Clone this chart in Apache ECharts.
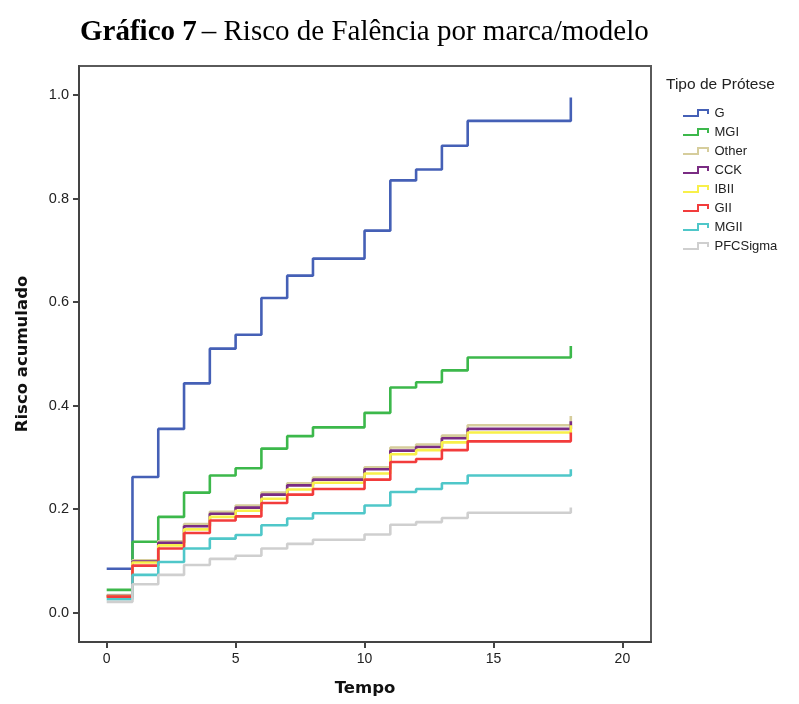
<!DOCTYPE html>
<html>
<head>
<meta charset="utf-8">
<script src="https://cdn.jsdelivr.net/npm/echarts@6/dist/echarts.min.js"></script>
<style>html,body{margin:0;padding:0;background:#fff}#c{width:799px;height:704px}</style>
</head>
<body>
<div id="c"></div>
<script>
// Time points where the step curves change (step holds until next time)
var times = [0, 1, 2, 3, 4, 5, 6, 7, 8, 10, 11, 12, 13, 14, 18];
var seriesNames = ['G', 'MGI', 'Other', 'CCK', 'IBII', 'GII', 'MGII', 'PFCSigma'];
var G        = [0.085, 0.262, 0.355, 0.443, 0.510, 0.537, 0.608, 0.651, 0.684, 0.738, 0.835, 0.856, 0.902, 0.950, 0.995];
var MGI      = [0.044, 0.137, 0.185, 0.232, 0.265, 0.279, 0.317, 0.341, 0.358, 0.386, 0.435, 0.445, 0.468, 0.493, 0.515];
var Other    = [0.034, 0.101, 0.138, 0.171, 0.195, 0.207, 0.232, 0.250, 0.261, 0.281, 0.319, 0.325, 0.342, 0.362, 0.380];
var CCK      = [0.032, 0.099, 0.135, 0.167, 0.191, 0.203, 0.228, 0.246, 0.257, 0.277, 0.313, 0.320, 0.337, 0.355, 0.370];
var IBII     = [0.031, 0.097, 0.130, 0.161, 0.185, 0.197, 0.220, 0.238, 0.251, 0.269, 0.306, 0.314, 0.329, 0.348, 0.362];
var GII      = [0.031, 0.091, 0.124, 0.154, 0.178, 0.186, 0.212, 0.228, 0.239, 0.257, 0.291, 0.297, 0.314, 0.331, 0.348];
var MGII     = [0.026, 0.073, 0.098, 0.124, 0.143, 0.150, 0.169, 0.182, 0.192, 0.207, 0.233, 0.239, 0.250, 0.265, 0.277];
var PFCSigma = [0.021, 0.055, 0.073, 0.092, 0.104, 0.110, 0.124, 0.133, 0.141, 0.151, 0.170, 0.175, 0.183, 0.193, 0.203];
var yTicks = [0, 0.2, 0.4, 0.6, 0.8, 1.0];
var xTicks = [0, 5, 10, 15, 20];

var allValues = [G, MGI, Other, CCK, IBII, GII, MGII, PFCSigma];
var colors = ['#4560b6', '#3cb84b', '#d6cd9c', '#7a2c83', '#f8f04a', '#f23c3c', '#4fc7c9', '#cfcfcf'];
var iconPath = 'path://M0,6 L14,6 L14,0 L26,0 L26,5 L24,5 L24,2 L16,2 L16,8 L0,8 Z';

var series = seriesNames.map(function (name, i) {
  return {
    name: name,
    type: 'line',
    step: 'end',
    showSymbol: false,
    symbol: 'none',
    animation: false,
    lineStyle: { width: 2.6, color: colors[i] },
    itemStyle: { color: colors[i] },
    z: 2 + i,
    data: times.map(function (t, k) { return [t, allValues[i][k]]; })
  };
});

var chart = echarts.init(document.getElementById('c'), null, { renderer: 'canvas' });
chart.setOption({
  backgroundColor: '#fff',
  animation: false,
  title: [{
    left: 75, top: 13,
    text: '{b|Gráfico 7} {n|– Risco de Falência por marca/modelo}',
    textStyle: {
      fontWeight: 'normal',
      rich: {
        b: { fontFamily: 'Liberation Serif', fontWeight: 'bold', fontSize: 29, color: '#000' },
        n: { fontFamily: 'Liberation Serif', fontWeight: 'normal', fontSize: 29, color: '#000' }
      }
    }
  }, {
    left: 661, top: 72,
    text: 'Tipo de Prótese',
    textStyle: { fontFamily: 'Liberation Sans', fontWeight: 'normal', fontSize: 15.5, color: '#222' }
  }],
  legend: {
    orient: 'vertical',
    left: 683, top: 106,
    selectedMode: false,
    icon: iconPath,
    itemWidth: 27, itemHeight: 8,
    itemGap: 5,
    padding: 0,
    textStyle: { fontFamily: 'Liberation Sans', fontSize: 13, color: '#222', lineHeight: 14, padding: [0, 0, 0, 0] },
    data: seriesNames
  },
  grid: {
    left: 79, right: 148, top: 66, bottom: 62,
    show: true, borderColor: '#5a5a5a', borderWidth: 2, backgroundColor: '#fff'
  },
  xAxis: {
    type: 'value',
    min: -1.074, max: 21.11,
    name: 'Tempo', nameLocation: 'middle', nameGap: 38,
    nameTextStyle: { fontFamily: 'DejaVu Sans', fontWeight: 'bold', fontSize: 16.5, color: '#111' },
    axisLine: { show: true, onZero: false, lineStyle: { color: '#444', width: 2 } },
    axisTick: { show: true, inside: false, length: 6, customValues: xTicks, lineStyle: { color: '#444', width: 2 } },
    axisLabel: { customValues: xTicks, margin: 10, fontFamily: 'Liberation Sans', fontSize: 14, color: '#222' },
    splitLine: { show: false }
  },
  yAxis: {
    type: 'value',
    min: -0.0566, max: 1.056,
    name: 'Risco acumulado', nameLocation: 'middle', nameGap: 48, nameRotate: 90,
    nameTextStyle: { fontFamily: 'DejaVu Sans', fontWeight: 'bold', fontSize: 16.5, color: '#111' },
    axisLine: { show: true, onZero: false, lineStyle: { color: '#444', width: 2 } },
    axisTick: { show: true, inside: false, length: 6, customValues: yTicks, lineStyle: { color: '#444', width: 2 } },
    axisLabel: {
      customValues: yTicks, margin: 10, fontFamily: 'Liberation Sans', fontSize: 14.5, color: '#222',
      formatter: function (v) { return v.toFixed(1); }
    },
    splitLine: { show: false }
  },
  series: series
});
</script>
</body>
</html>
